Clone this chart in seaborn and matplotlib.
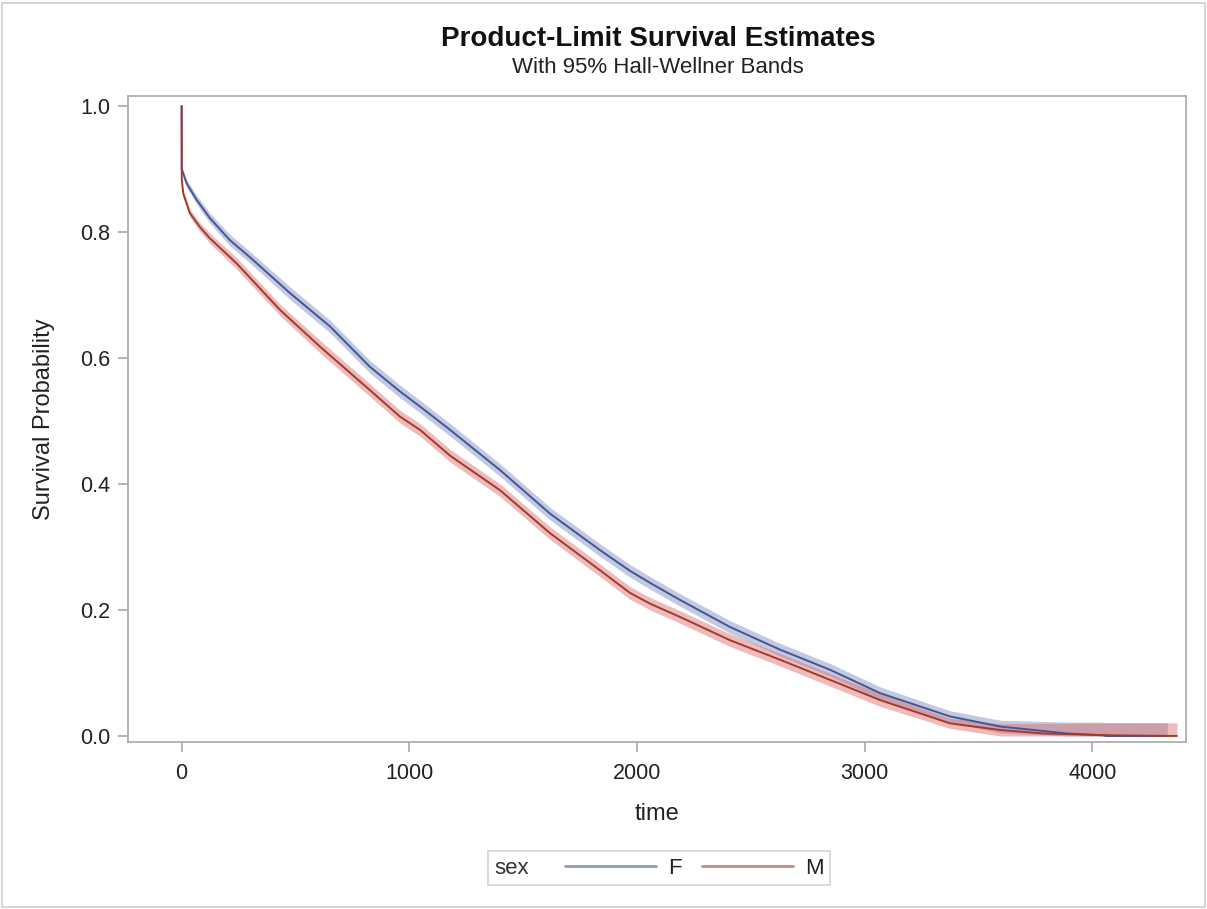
import numpy as np
import pandas as pd
import seaborn as sns
import matplotlib.pyplot as plt
from matplotlib.lines import Line2D
from matplotlib.patches import Rectangle
from matplotlib.offsetbox import HPacker

# Kaplan-Meier estimates, by sex
time_f = [0, 0.5, 4, 22, 66, 124, 212, 300, 476, 652, 827, 959, 1047, 1179, 1399,
          1618, 1838, 1970, 2058, 2189, 2409, 2629, 2849, 3068, 3376, 3596, 3889,
          4048, 4060, 4330]
surv_f = [1.0, 0.898, 0.896, 0.877, 0.851, 0.822, 0.787, 0.760, 0.703, 0.650, 0.586,
          0.547, 0.523, 0.486, 0.422, 0.353, 0.295, 0.262, 0.243, 0.216, 0.173, 0.137,
          0.105, 0.068, 0.031, 0.015, 0.004, 0.001, 0.0, 0.0]
# half width of the 95% Hall-Wellner band
band_f = [0.0, 0.005, 0.005, 0.006, 0.007, 0.008, 0.009, 0.009, 0.010, 0.010, 0.010,
          0.010, 0.010, 0.010, 0.010, 0.010, 0.010, 0.010, 0.010, 0.010, 0.010, 0.010,
          0.010, 0.010, 0.009, 0.010, 0.018, 0.021, 0.021, 0.021]

time_m = [0, 0.5, 7, 36, 80, 124, 242, 433, 608, 827, 959, 1047, 1179, 1399, 1618,
          1838, 1970, 2058, 2189, 2409, 2629, 2849, 3068, 3376, 3596, 3784, 4100, 4372]
surv_m = [1.0, 0.883, 0.861, 0.830, 0.808, 0.790, 0.750, 0.676, 0.618, 0.549, 0.507,
          0.486, 0.445, 0.390, 0.322, 0.263, 0.227, 0.210, 0.189, 0.152, 0.121, 0.089,
          0.057, 0.020, 0.0095, 0.004, 0.001, 0.0]
band_m = [0.0, 0.005, 0.005, 0.006, 0.007, 0.008, 0.009, 0.009, 0.010, 0.010, 0.010,
          0.010, 0.010, 0.010, 0.010, 0.010, 0.010, 0.010, 0.010, 0.010, 0.010, 0.010,
          0.010, 0.008, 0.010, 0.016, 0.020, 0.021]

sex_levels = ["F", "M"]
x_ticks = [0, 1000, 2000, 3000, 4000]
y_ticks = [0.0, 0.2, 0.4, 0.6, 0.8, 1.0]

LINE_COLORS = {"F": "#445694", "M": "#A23A2E"}
BAND_COLORS = {"F": "#7A88BD", "M": "#D86A66"}
AXIS_GRAY = "#A8A8A8"

sns.set_theme(style="ticks")
plt.rcParams["font.family"] = ["Liberation Sans", "DejaVu Sans"]

df = pd.concat([
    pd.DataFrame({"time": time_f, "surv": surv_f, "band": band_f, "sex": "F"}),
    pd.DataFrame({"time": time_m, "surv": surv_m, "band": band_m, "sex": "M"}),
], ignore_index=True)
df["lower"] = (df["surv"] - df["band"]).clip(lower=0)
df["upper"] = df["surv"] + df["band"]

fig = plt.figure(figsize=(12.07, 9.09), dpi=100)
ax = fig.add_axes([0.1058, 0.1834, 0.8768, 0.7110])

# Bands first, then the curves
for s in sex_levels:
    sub = df[df["sex"] == s]
    ax.fill_between(sub["time"], sub["lower"], sub["upper"],
                    color=BAND_COLORS[s], alpha=0.45, linewidth=0)

sns.lineplot(data=df, x="time", y="surv", hue="sex", hue_order=sex_levels,
             palette=LINE_COLORS, estimator=None, sort=False, linewidth=1.4,
             legend=False, ax=ax)

ax.set_xlim(-237, 4412)
ax.set_ylim(-0.010, 1.0159)
ax.set_xticks(x_ticks)
ax.set_yticks(y_ticks)
ax.set_yticklabels([f"{v:.1f}" for v in y_ticks])
ax.tick_params(axis="both", labelsize=15.5, colors=AXIS_GRAY, labelcolor="#222222",
               length=7.2, width=1.2)
ax.tick_params(axis="x", pad=7.5)
ax.tick_params(axis="y", pad=5.5)
for sp in ax.spines.values():
    sp.set_color(AXIS_GRAY)
    sp.set_linewidth(1.2)

ax.set_xlabel("time", fontsize=17, color="#222222")
ax.set_ylabel("Survival Probability", fontsize=17, color="#222222")
ax.xaxis.set_label_coords(0.5, -0.094)
ax.yaxis.set_label_coords(-0.069, 0.5)

fig.text(0.545, 0.957, "Product-Limit Survival Estimates", ha="center", va="center",
         fontsize=20, fontweight="bold", color="#111111")
fig.text(0.545, 0.926, "With 95% Hall-Wellner Bands", ha="center", va="center",
         fontsize=16, color="#222222")

# Legend: title "sex" on the left of the entries, like SAS
LEG_FS = 16
handles = [Line2D([], [], color=LINE_COLORS[s], lw=2, alpha=0.6) for s in sex_levels]
leg = ax.legend(handles, sex_levels, title="sex", ncol=2, loc="center",
                bbox_to_anchor=(0.546, 0.0451), bbox_transform=fig.transFigure,
                fontsize=LEG_FS, title_fontsize=LEG_FS, frameon=True, fancybox=False,
                handlelength=4.1, handletextpad=0.54, columnspacing=0.9,
                borderpad=0.15, edgecolor="#C8C8C8")
leg.get_frame().set_linewidth(1.2)
for t in leg.get_texts():
    t.set_color("#222222")
leg.get_title().set_color("#333333")
box = HPacker(pad=0.3 * LEG_FS, sep=26, align="center",
              children=[leg._legend_title_box, leg._legend_handle_box])
box.set_figure(fig)
box.axes = ax
leg._legend_box = box
box.set_offset(leg._findoffset)

# thin outer border around the whole graph
fig.patches.append(Rectangle((0.002, 0.002), 0.996, 0.995, transform=fig.transFigure,
                             fill=False, edgecolor="#CFCFCF", linewidth=1.2))

fig.savefig("out.png", dpi=100)
